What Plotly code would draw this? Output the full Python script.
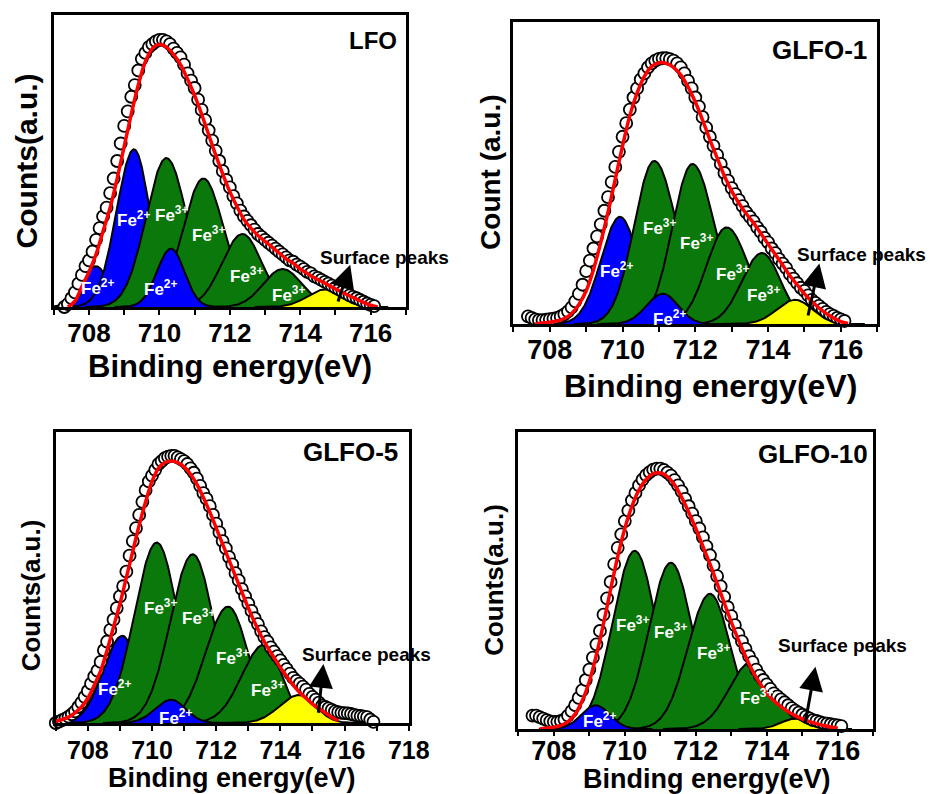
import numpy as np
import plotly.graph_objects as go

W, H = 952, 794
FONT = "Liberation Sans, Arial, sans-serif"
COLORS = {"Fe2+": "#0000ff", "Fe3+": "#0b780b", "surf": "#ffff00"}

# ---------------- LFO ----------------
lfo_start, lfo_step = 707.3, 0.1
lfo_counts = [0.00, 0.01, 0.03, 0.05, 0.08, 0.11, 0.14, 0.16, 0.19, 0.23,
              0.27, 0.31, 0.34, 0.39, 0.44, 0.50, 0.56, 0.62, 0.67, 0.72,
              0.76, 0.81, 0.85, 0.87, 0.89, 0.90, 0.91, 0.915, 0.915, 0.91,
              0.90, 0.885, 0.87, 0.855, 0.83, 0.80, 0.775, 0.75, 0.71, 0.675,
              0.64, 0.605, 0.57, 0.535, 0.50, 0.465, 0.435, 0.41, 0.38, 0.355,
              0.33, 0.31, 0.295, 0.28, 0.265, 0.25, 0.24, 0.23, 0.22, 0.21,
              0.20, 0.19, 0.18, 0.17, 0.16, 0.155, 0.145, 0.138, 0.13, 0.12,
              0.115, 0.105, 0.10, 0.093, 0.086, 0.08, 0.073, 0.066, 0.06, 0.053,
              0.047, 0.04, 0.035, 0.03, 0.024, 0.018, 0.012, 0.007, 0.003]
lfo_fit_start, lfo_fit_step = 707.4, 0.2
lfo_fit = [0.00, 0.02, 0.07, 0.12, 0.18, 0.26, 0.34, 0.44, 0.55, 0.66,
           0.76, 0.84, 0.885, 0.90, 0.89, 0.865, 0.83, 0.78, 0.725, 0.66,
           0.59, 0.52, 0.455, 0.395, 0.345, 0.30, 0.27, 0.245, 0.225, 0.205,
           0.185, 0.165, 0.15, 0.13, 0.115, 0.10, 0.088, 0.075, 0.062, 0.05,
           0.038, 0.027, 0.016, 0.006, 0.0]
lfo_centers = [708.2, 709.28, 710.2, 711.25, 712.36, 713.5, 710.33, 714.7]
lfo_heights = [0.14, 0.54, 0.51, 0.44, 0.25, 0.13, 0.20, 0.06]
lfo_sig_lo = [0.40, 0.50, 0.58, 0.58, 0.58, 0.55, 0.40, 0.50]
lfo_sig_hi = [0.35, 0.45, 0.58, 0.58, 0.55, 0.55, 0.38, 0.45]
lfo_kinds = ["Fe2+", "Fe2+", "Fe3+", "Fe3+", "Fe3+", "Fe3+", "Fe2+", "surf"]
lfo_label_x = [708.25, 709.27, 710.33, 710.03, 711.4, 712.48, 713.68]
lfo_label_y = [0.07, 0.30, 0.32, 0.064, 0.25, 0.11, 0.045]
lfo_label_ion = ["2+", "2+", "3+", "2+", "3+", "3+", "3+"]

# ---------------- GLFO-1 ----------------
g1_start, g1_step = 707.4, 0.1
g1_counts = [0.025, 0.02, 0.015, 0.013, 0.013, 0.014, 0.016, 0.018, 0.02, 0.025,
             0.032, 0.042, 0.055, 0.075, 0.10, 0.13, 0.175, 0.21, 0.25, 0.29,
             0.33, 0.375, 0.42, 0.47, 0.52, 0.57, 0.62, 0.665, 0.71, 0.75,
             0.78, 0.81, 0.83, 0.85, 0.863, 0.872, 0.878, 0.88, 0.88, 0.877,
             0.872, 0.863, 0.85, 0.83, 0.805, 0.78, 0.75, 0.72, 0.685, 0.65,
             0.62, 0.59, 0.56, 0.53, 0.50, 0.475, 0.45, 0.43, 0.41, 0.39,
             0.37, 0.355, 0.34, 0.32, 0.305, 0.285, 0.27, 0.25, 0.235, 0.215,
             0.20, 0.185, 0.165, 0.15, 0.135, 0.12, 0.11, 0.095, 0.08, 0.07,
             0.06, 0.05, 0.04, 0.033, 0.027, 0.02, 0.015, 0.01]
g1_fit_start, g1_fit_step = 707.6, 0.2
g1_fit = [0.0, 0.003, 0.006, 0.01, 0.018, 0.035, 0.065, 0.11, 0.18, 0.27,
          0.37, 0.48, 0.59, 0.69, 0.765, 0.82, 0.853, 0.865, 0.863, 0.85,
          0.825, 0.785, 0.735, 0.675, 0.61, 0.55, 0.49, 0.44, 0.40, 0.365,
          0.335, 0.30, 0.265, 0.23, 0.195, 0.16, 0.13, 0.10, 0.075, 0.053,
          0.035, 0.02, 0.008, 0.002]
g1_centers = [709.93, 710.87, 711.92, 712.86, 713.83, 711.11, 714.74]
g1_heights = [0.355, 0.54, 0.53, 0.32, 0.235, 0.10, 0.08]
g1_sig_lo = [0.52, 0.55, 0.55, 0.55, 0.55, 0.45, 0.50]
g1_sig_hi = [0.50, 0.62, 0.62, 0.60, 0.52, 0.42, 0.48]
g1_kinds = ["Fe2+", "Fe3+", "Fe3+", "Fe3+", "Fe3+", "Fe2+", "surf"]
g1_label_x = [709.82, 711.01, 712.04, 713.03, 713.88, 711.28]
g1_label_y = [0.18, 0.32, 0.27, 0.17, 0.10, 0.02]
g1_label_ion = ["2+", "3+", "3+", "3+", "3+", "2+"]

# ---------------- GLFO-5 ----------------
g5_start, g5_step = 707.0, 0.1
g5_counts = [0.0, 0.005, 0.01, 0.015, 0.022, 0.03, 0.04, 0.055, 0.07, 0.09,
             0.11, 0.135, 0.16, 0.18, 0.21, 0.25, 0.28, 0.32, 0.355, 0.395,
             0.435, 0.47, 0.52, 0.575, 0.625, 0.67, 0.715, 0.76, 0.80, 0.83,
             0.85, 0.87, 0.89, 0.90, 0.91, 0.915, 0.918, 0.918, 0.913, 0.907,
             0.90, 0.89, 0.875, 0.86, 0.84, 0.815, 0.79, 0.77, 0.745, 0.715,
             0.685, 0.655, 0.625, 0.60, 0.57, 0.545, 0.515, 0.49, 0.46, 0.435,
             0.41, 0.385, 0.36, 0.34, 0.315, 0.295, 0.28, 0.26, 0.245, 0.23,
             0.215, 0.20, 0.185, 0.17, 0.155, 0.145, 0.135, 0.125, 0.115, 0.10,
             0.09, 0.08, 0.07, 0.06, 0.055, 0.05, 0.045, 0.04, 0.037, 0.035,
             0.034, 0.033, 0.031, 0.028, 0.025, 0.024, 0.022, 0.02, 0.012, 0.004]
g5_fit_start, g5_fit_step = 707.0, 0.2
g5_fit = [0.005, 0.012, 0.02, 0.035, 0.055, 0.085, 0.13, 0.18, 0.25, 0.33,
          0.41, 0.50, 0.59, 0.68, 0.76, 0.83, 0.875, 0.895, 0.90, 0.895,
          0.88, 0.855, 0.82, 0.775, 0.725, 0.67, 0.615, 0.56, 0.505, 0.45,
          0.395, 0.345, 0.30, 0.26, 0.225, 0.19, 0.16, 0.13, 0.105, 0.085,
          0.065, 0.05, 0.035, 0.02, 0.008]
g5_centers = [709.08, 710.15, 711.27, 712.37, 713.5, 710.6, 714.57]
g5_heights = [0.30, 0.62, 0.58, 0.40, 0.27, 0.08, 0.096]
g5_sig_lo = [0.60, 0.70, 0.70, 0.70, 0.70, 0.50, 0.60]
g5_sig_hi = [0.45, 0.65, 0.65, 0.62, 0.55, 0.45, 0.52]
g5_kinds = ["Fe2+", "Fe3+", "Fe3+", "Fe3+", "Fe3+", "Fe2+", "surf"]
g5_label_x = [708.82, 710.27, 711.44, 712.5, 713.6, 710.73]
g5_label_y = [0.12, 0.40, 0.364, 0.227, 0.118, 0.02]
g5_label_ion = ["2+", "3+", "3+", "3+", "3+", "2+"]

# ---------------- GLFO-10 ----------------
g10_start, g10_step = 707.4, 0.1
g10_counts = [0.045, 0.045, 0.04, 0.035, 0.03, 0.026, 0.024, 0.024, 0.027, 0.032,
              0.045, 0.06, 0.08, 0.105, 0.13, 0.165, 0.20, 0.24, 0.285, 0.33,
              0.385, 0.44, 0.495, 0.555, 0.61, 0.655, 0.70, 0.735, 0.77, 0.795,
              0.82, 0.84, 0.855, 0.865, 0.873, 0.877, 0.877, 0.872, 0.863, 0.853,
              0.838, 0.82, 0.80, 0.775, 0.75, 0.725, 0.70, 0.675, 0.645, 0.615,
              0.585, 0.55, 0.515, 0.48, 0.445, 0.41, 0.38, 0.35, 0.32, 0.295,
              0.27, 0.245, 0.225, 0.20, 0.18, 0.165, 0.15, 0.135, 0.12, 0.11,
              0.10, 0.09, 0.08, 0.07, 0.062, 0.055, 0.048, 0.042, 0.036, 0.03,
              0.027, 0.023, 0.02, 0.018, 0.016, 0.014, 0.012, 0.01]
g10_fit_start, g10_fit_step = 707.6, 0.2
g10_fit = [0.0, 0.003, 0.006, 0.012, 0.025, 0.05, 0.095, 0.16, 0.25, 0.355,
           0.47, 0.58, 0.675, 0.75, 0.805, 0.84, 0.86, 0.862, 0.85, 0.822,
           0.78, 0.73, 0.675, 0.615, 0.555, 0.49, 0.425, 0.36, 0.30, 0.245,
           0.195, 0.155, 0.12, 0.095, 0.075, 0.058, 0.045, 0.034, 0.025, 0.018,
           0.012, 0.007, 0.003]
g10_centers = [710.28, 711.3, 712.4, 713.56, 709.18, 714.8]
g10_heights = [0.60, 0.56, 0.455, 0.225, 0.08, 0.035]
g10_sig_lo = [0.62, 0.62, 0.62, 0.62, 0.40, 0.40]
g10_sig_hi = [0.60, 0.60, 0.58, 0.62, 0.40, 0.40]
g10_kinds = ["Fe3+", "Fe3+", "Fe3+", "Fe3+", "Fe2+", "surf"]
g10_label_x = [709.3, 710.21, 711.3, 712.51, 713.72]
g10_label_y = [0.03, 0.355, 0.33, 0.26, 0.108]
g10_label_ion = ["2+", "3+", "3+", "3+", "3+"]

# Panel geometry (pixel boxes) and text styling
panels = [
    dict(name="LFO", ytitle="Counts(a.u.)", box=(55, 15, 415, 307), xr=(707, 717),
         ticks=[708, 710, 712, 714, 716], tick_size=26, tick_len=5, tick_off=-4,
         xt_size=31, yt_size=30, ti_size=24,
         xt_pos=(235, 366), yt_pos=(27, 161), ti_pos=(381, 40), sp_pos=(393, 258),
         arrow=((715.42, 0.145), (715.06, 0.014)),
         start=lfo_start, step=lfo_step, counts=lfo_counts,
         fit_start=lfo_fit_start, fit_step=lfo_fit_step, fit=lfo_fit,
         centers=lfo_centers, heights=lfo_heights, slo=lfo_sig_lo, shi=lfo_sig_hi,
         kinds=lfo_kinds, lx=lfo_label_x, ly=lfo_label_y, lion=lfo_label_ion),
    dict(name="GLFO-1", ytitle="Count (a.u.)", box=(525, 22, 897, 324), xr=(707, 717),
         ticks=[708, 710, 712, 714, 716], tick_size=27, tick_len=5, tick_off=-5,
         xt_size=32, yt_size=28, ti_size=26,
         xt_pos=(727, 386), yt_pos=(501, 172), ti_pos=(838, 50), sp_pos=(881, 255),
         arrow=((715.41, 0.20), (715.09, 0.023)),
         start=g1_start, step=g1_step, counts=g1_counts,
         fit_start=g1_fit_start, fit_step=g1_fit_step, fit=g1_fit,
         centers=g1_centers, heights=g1_heights, slo=g1_sig_lo, shi=g1_sig_hi,
         kinds=g1_kinds, lx=g1_label_x, ly=g1_label_y, lion=g1_label_ion),
    dict(name="GLFO-5", ytitle="Counts(a.u.)", box=(57, 432, 418, 723), xr=(707, 718),
         ticks=[708, 710, 712, 714, 716, 718], tick_size=25, tick_len=5, tick_off=-2,
         xt_size=27, yt_size=26, ti_size=26,
         xt_pos=(237, 778), yt_pos=(32, 595), ti_pos=(358, 452), sp_pos=(375, 654),
         arrow=((715.34, 0.203), (715.18, 0.03)),
         start=g5_start, step=g5_step, counts=g5_counts,
         fit_start=g5_fit_start, fit_step=g5_fit_step, fit=g5_fit,
         centers=g5_centers, heights=g5_heights, slo=g5_sig_lo, shi=g5_sig_hi,
         kinds=g5_kinds, lx=g5_label_x, ly=g5_label_y, lion=g5_label_ion),
    dict(name="GLFO-10", ytitle="Counts(a.u.)", box=(530, 432, 893, 729), xr=(707, 717),
         ticks=[708, 710, 712, 714, 716], tick_size=27, tick_len=4, tick_off=-8,
         xt_size=27, yt_size=26, ti_size=26,
         xt_pos=(723, 779), yt_pos=(505, 580), ti_pos=(831, 454), sp_pos=(861, 645),
         arrow=((715.37, 0.21), (715.07, 0.013)),
         start=g10_start, step=g10_step, counts=g10_counts,
         fit_start=g10_fit_start, fit_step=g10_fit_step, fit=g10_fit,
         centers=g10_centers, heights=g10_heights, slo=g10_sig_lo, shi=g10_sig_hi,
         kinds=g10_kinds, lx=g10_label_x, ly=g10_label_y, lion=g10_label_ion),
]


def px(x):
    return x / W


def py(y):
    return 1 - y / H


def split_gauss(e, c, h, s_lo, s_hi):
    """Gaussian line shape with separate widths below and above the centre."""
    s = np.where(e < c, s_lo, s_hi)
    return h * np.exp(-0.5 * ((e - c) / s) ** 2)


fig = go.Figure()
annotations = []
layout = {}

for i, p in enumerate(panels):
    n = "" if i == 0 else str(i + 1)
    xa, ya = "x" + n, "y" + n
    x0, y0, x1, y1 = p["box"]

    # fitted component peaks
    for c, h, sl, sh, k in zip(p["centers"], p["heights"], p["slo"], p["shi"], p["kinds"]):
        e = np.linspace(max(p["xr"][0], c - 4 * sl), min(p["xr"][1], c + 4 * sh), 240)
        fig.add_trace(go.Scatter(
            x=e, y=split_gauss(e, c, h, sl, sh), mode="lines",
            fill="tozeroy", fillcolor=COLORS[k], line=dict(color="black", width=2),
            xaxis=xa, yaxis=ya, showlegend=False, hoverinfo="skip"))

    # measured spectrum
    ev = p["start"] + p["step"] * np.arange(len(p["counts"]))
    fig.add_trace(go.Scatter(
        x=ev, y=p["counts"], mode="markers", cliponaxis=False,
        marker=dict(symbol="circle", size=12, color="white",
                    line=dict(color="black", width=1.8)),
        xaxis=xa, yaxis=ya, showlegend=False))

    # envelope of the fit
    ef = p["fit_start"] + p["fit_step"] * np.arange(len(p["fit"]))
    fig.add_trace(go.Scatter(
        x=ef, y=p["fit"], mode="lines", line=dict(color="#ff0000", width=3.5, shape="spline"),
        xaxis=xa, yaxis=ya, showlegend=False))

    layout["xaxis" + n] = dict(
        domain=[px(x0), px(x1)], range=list(p["xr"]), anchor=ya,
        showline=True, linecolor="black", linewidth=2.5, mirror=True,
        showgrid=False, zeroline=False, ticks="outside", ticklen=p["tick_len"], tickwidth=2,
        tickcolor="black", tickvals=p["ticks"], ticklabelstandoff=p["tick_off"],
        minor=dict(dtick=1, tick0=707, ticks="outside", ticklen=p["tick_len"], tickwidth=2,
                   tickcolor="black"),
        tickfont=dict(family=FONT, size=p["tick_size"], color="black", weight="bold"))
    layout["yaxis" + n] = dict(
        domain=[py(y1), py(y0)], range=[0, 1], anchor=xa,
        showline=True, linecolor="black", linewidth=2.5, mirror=True,
        showgrid=False, zeroline=False, ticks="", showticklabels=False)

    bold = dict(family=FONT, color="black", weight="bold")
    centred = dict(xref="paper", yref="paper", showarrow=False, xanchor="center", yanchor="middle")
    annotations.append(dict(centred, text=p["name"], x=px(p["ti_pos"][0]), y=py(p["ti_pos"][1]),
                            font=dict(bold, size=p["ti_size"])))
    annotations.append(dict(centred, text="Binding energy(eV)", x=px(p["xt_pos"][0]),
                            y=py(p["xt_pos"][1]), font=dict(bold, size=p["xt_size"])))
    annotations.append(dict(centred, text=p["ytitle"], x=px(p["yt_pos"][0]), y=py(p["yt_pos"][1]),
                            textangle=-90, font=dict(bold, size=p["yt_size"])))
    annotations.append(dict(centred, text="Surface peaks", x=px(p["sp_pos"][0]),
                            y=py(p["sp_pos"][1]), font=dict(bold, size=19)))
    (hx, hy), (tx, ty) = p["arrow"]
    annotations.append(dict(text="", x=hx, y=hy, ax=tx, ay=ty, xref=xa, yref=ya,
                            axref=xa, ayref=ya, showarrow=True, arrowhead=2,
                            arrowsize=1.6, arrowwidth=3, arrowcolor="black"))
    for lx, ly, ion in zip(p["lx"], p["ly"], p["lion"]):
        annotations.append(dict(text="Fe<sup>" + ion + "</sup>", x=lx, y=ly, xref=xa, yref=ya,
                                showarrow=False, xanchor="center", yanchor="middle",
                                font=dict(family=FONT, size=17, color="white", weight="bold")))

fig.update_layout(width=W, height=H, margin=dict(l=0, r=0, t=0, b=0),
                  paper_bgcolor="white", plot_bgcolor="white",
                  annotations=annotations, **layout)
fig.write_html("out.html")
